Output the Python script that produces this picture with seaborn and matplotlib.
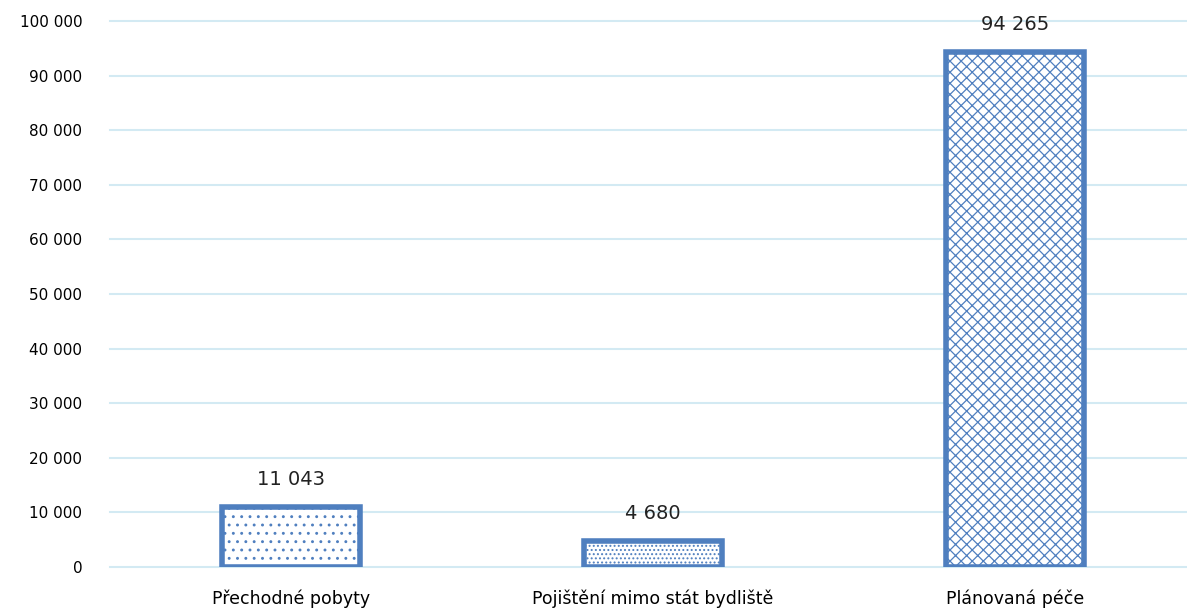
import numpy as np
import pandas as pd
import seaborn as sns
from matplotlib import pyplot as plt

categories = ["Přechodné pobyty", "Pojištění mimo stát bydliště", "Plánovaná péče"]
values = [11043, 4680, 94265]
hatches = ["..", "....", "xxx"]
yticks = list(range(0, 100001, 10000))

edge = "#4F7FBF"
plt.rcParams["hatch.color"] = edge
plt.rcParams["hatch.linewidth"] = 0.9

df = pd.DataFrame({"kategorie": categories, "pocet": values})

def fmt(v):
    return f"{v:,}".replace(",", " ")

fig = plt.figure(figsize=(11.87, 6.10), dpi=100)
ax = fig.add_axes([110 / 1187, 43 / 610, 1086 / 1187, 546 / 610])

sns.barplot(data=df, x="kategorie", y="pocet", ax=ax, width=0.38,
            color="white", edgecolor=edge, linewidth=4, saturation=1, zorder=3)
for bar, h in zip(ax.patches, hatches):
    bar.set_hatch(h)
    bar.set_edgecolor(edge)

for i, v in enumerate(values):
    ax.text(i, v + 3300, fmt(v), ha="center", va="bottom", fontsize=14, color="#222222")

ax.set_ylim(0, 100000)
ax.set_xlim(-0.5, 2.5)
ax.set_yticks(yticks)
ax.set_yticklabels([fmt(t) for t in yticks], fontsize=11)
ax.tick_params(axis="x", labelsize=12.5, length=0, pad=16)
ax.tick_params(axis="y", length=0, pad=20)
ax.grid(axis="y", color="#D3EAF3", linewidth=1.5, zorder=0, clip_on=False)
for gl in ax.get_ygridlines():
    gl.set_clip_on(False)
ax.set_axisbelow(True)
for s in ax.spines.values():
    s.set_visible(False)
ax.set_xlabel("")
ax.set_ylabel("")

plt.savefig("out.png", dpi=100)
plt.close()
